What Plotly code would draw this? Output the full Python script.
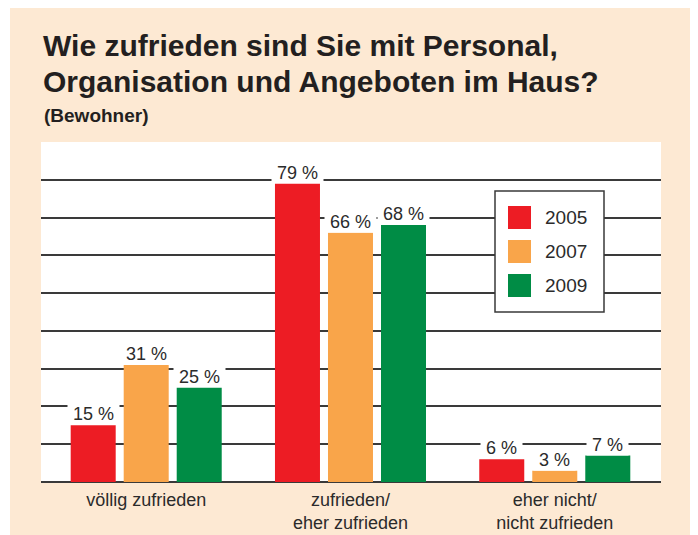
import plotly.graph_objects as go

categories = ["völlig zufrieden", "zufrieden/<br>eher zufrieden", "eher nicht/<br>nicht zufrieden"]
years = ["2005", "2007", "2009"]
values_2005 = [15, 79, 6]
values_2007 = [31, 66, 3]
values_2009 = [25, 68, 7]
series = [values_2005, values_2007, values_2009]
colors = ["#ED1C24", "#F9A54A", "#008C45"]

# page offset (body margin) compensation
OFF = 8
W, H = 698 - OFF, 535 - OFF
# plot area in page px: x 41..661, y 142..482
L = 41 - OFF
R = W - (661 - OFF)
T = 142 - OFF
B = H - (482 - OFF)
pw, ph = W - L - R, H - T - B

def px_x(p):  # page px -> paper
    return (p - OFF - L) / pw

def px_y(p):
    return (H - B - (p - OFF)) / ph

fig = go.Figure()
for name, vals, col in zip(years, series, colors):
    fig.add_trace(go.Bar(x=categories, y=vals, name=name, marker_color=col,
                         marker_line_width=0, showlegend=False))

font_txt = "Liberation Sans, Arial, sans-serif"
annotations = []
slot = 53
NB = "\u00a0"
for i, vals in enumerate(series):
    for c, v in zip(categories, vals):
        annotations.append(dict(x=c, y=v, xref="x", yref="y", text=f"{NB}{v} %{NB}",
                                showarrow=False, yanchor="bottom", xanchor="center",
                                xshift=(i - 1) * slot, yshift=0,
                                bgcolor="white", borderpad=0,
                                font=dict(size=18, color="#2b2b2b", family=font_txt)))

# title
title_font = dict(size=30, color="#231f20", family=font_txt)
annotations.append(dict(xref="paper", yref="paper", x=px_x(41), y=px_y(46), xanchor="left", yanchor="middle",
                        align="left", showarrow=False,
                        text="<b>Wie zufrieden sind Sie mit Personal,</b>", font=title_font))
annotations.append(dict(xref="paper", yref="paper", x=px_x(41), y=px_y(81), xanchor="left", yanchor="middle",
                        align="left", showarrow=False,
                        text="<b>Organisation und Angeboten im Haus?</b>", font=title_font))
annotations.append(dict(xref="paper", yref="paper", x=px_x(42), y=px_y(115), xanchor="left", yanchor="middle",
                        align="left", showarrow=False, text="<b>(Bewohner)</b>",
                        font=dict(size=19, color="#231f20", family=font_txt)))

shapes = []
# white right strip (page x 691..698) and left strip (page x 8..10)
shapes.append(dict(type="rect", xref="paper", yref="paper", x0=px_x(691), x1=px_x(700), y0=px_y(540), y1=px_y(0),
                   fillcolor="white", line_width=0, layer="below"))
shapes.append(dict(type="rect", xref="paper", yref="paper", x0=px_x(0), x1=px_x(10), y0=px_y(540), y1=px_y(0),
                   fillcolor="white", line_width=0, layer="below"))

# legend box
shapes.append(dict(type="rect", xref="paper", yref="paper", x0=px_x(495), x1=px_x(604), y0=px_y(312), y1=px_y(191),
                   fillcolor="white", line=dict(color="#3a3a3a", width=1.5), layer="above"))
for k, (name, col) in enumerate(zip(years, colors)):
    cy = 217.5 + k * 34
    shapes.append(dict(type="rect", xref="paper", yref="paper", x0=px_x(508), x1=px_x(531),
                       y0=px_y(cy + 11.5), y1=px_y(cy - 11.5), fillcolor=col, line_width=0, layer="above"))
    annotations.append(dict(xref="paper", yref="paper", x=px_x(543), y=px_y(cy), xanchor="left", yanchor="middle",
                            showarrow=False, text=name, font=dict(size=19, color="#2b2b2b", family=font_txt)))

fig.update_layout(
    width=W, height=H,
    margin=dict(l=L, r=R, t=T, b=B, pad=0, autoexpand=False),
    paper_bgcolor="#FDE9D3",
    plot_bgcolor="white",
    barmode="group",
    bargap=0.2215,
    bargroupgap=0.151,
    annotations=annotations,
    shapes=shapes,
    showlegend=False,
)
fig.update_xaxes(range=[-0.515, 2.52], showgrid=False, ticks="", showline=False,
                 automargin=False, ticklabelstandoff=5,
                 tickfont=dict(size=18, color="#2b2b2b", family=font_txt), fixedrange=True)
fig.update_yaxes(range=[0, 90], tickvals=[10, 20, 30, 40, 50, 60, 70, 80], showticklabels=False,
                 automargin=False,
                 showgrid=True, gridcolor="#3a3a3a", gridwidth=1.5,
                 zeroline=True, zerolinecolor="#3a3a3a", zerolinewidth=2, showline=False, ticks="")

fig.write_html("out.html")
